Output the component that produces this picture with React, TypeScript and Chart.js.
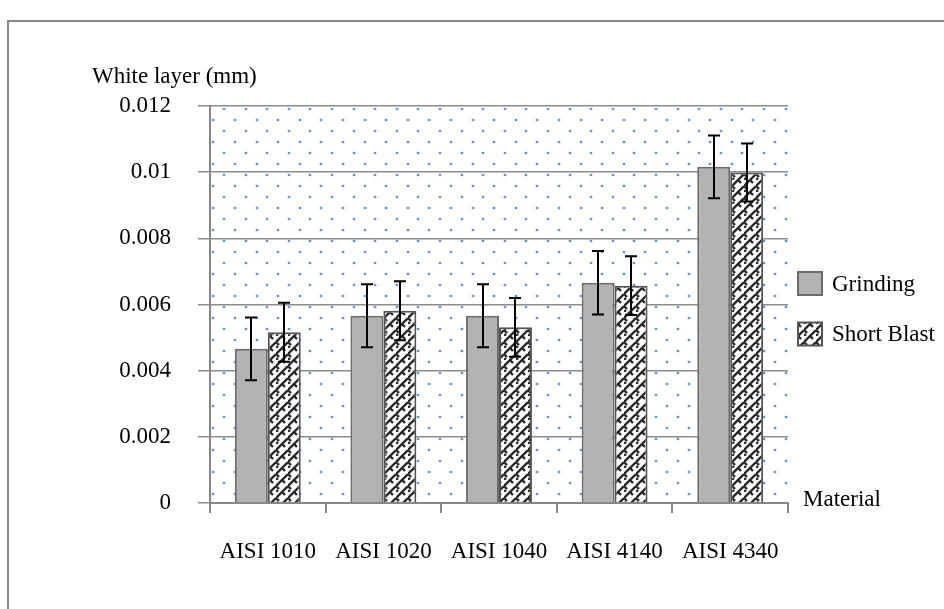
import React, { useEffect, useRef } from "react";
import { Chart, registerables } from "chart.js";

Chart.register(...registerables);

const categories = ["AISI 1010", "AISI 1020", "AISI 1040", "AISI 4140", "AISI 4340"];
const grindingValues = [0.00466, 0.00566, 0.00566, 0.00666, 0.01016];
const grindingErrors = [0.00095, 0.00095, 0.00095, 0.00096, 0.00095];
const shortBlastValues = [0.00516, 0.00581, 0.00531, 0.00657, 0.00999];
const shortBlastErrors = [0.00089, 0.00089, 0.00089, 0.00089, 0.00088];
const yTickLabels = ["0", "0.002", "0.004", "0.006", "0.008", "0.01", "0.012"];
const seriesNames = ["Grinding", "Short Blast"];
const yAxisTitle = "White layer (mm)";
const xAxisTitle = "Material";

const FONT = "'Liberation Serif', 'Times New Roman', serif";

function makeWeave(): CanvasPattern | string {
  const c = document.createElement("canvas");
  c.width = 12;
  c.height = 12;
  const g = c.getContext("2d");
  if (!g) return "#777";
  g.fillStyle = "#ffffff";
  g.fillRect(0, 0, 12, 12);
  g.strokeStyle = "#2a2a2a";
  g.lineWidth = 2.4;
  g.beginPath();
  g.moveTo(-1, 7);
  g.lineTo(6, 0);
  g.moveTo(5, 13);
  g.lineTo(12, 6);
  g.moveTo(6, 0);
  g.lineTo(9, 3);
  g.moveTo(0, 6);
  g.lineTo(3, 9);
  g.moveTo(-1, 13);
  g.lineTo(2, 10);
  g.stroke();
  const p = g.createPattern(c, "repeat");
  return p || "#777";
}

export default function App() {
  const ref = useRef<HTMLCanvasElement | null>(null);

  useEffect(() => {
    const canvas = ref.current;
    if (!canvas) return;
    const weave = makeWeave();
    const errors = [grindingErrors, shortBlastErrors];

    const decor = {
      id: "decor",
      beforeDraw(chart: any) {
        const ctx = chart.ctx;
        const a = chart.chartArea;
        ctx.save();
        ctx.fillStyle = "#ffffff";
        ctx.fillRect(0, 0, chart.width, chart.height);
        // frame
        ctx.strokeStyle = "#888888";
        ctx.lineWidth = 2;
        ctx.beginPath();
        ctx.moveTo(8, chart.height);
        ctx.lineTo(8, 21);
        ctx.lineTo(chart.width, 21);
        ctx.stroke();
        // dotted background
        let row = 0;
        for (let y = a.top + 3; y < a.bottom; y += 11, row++) {
          const start = row % 2 === 0 ? a.left + 14 : a.left + 3.3;
          for (let x = start; x < a.right; x += 21.6) {
            const px = Math.round(x);
            const py = Math.round(y);
            ctx.fillStyle = "rgba(140,175,225,0.3)";
            ctx.fillRect(px - 2, py - 1.5, 4, 3);
            ctx.fillStyle = "#6792d4";
            ctx.fillRect(px - 1, py - 1, 2, 2);
          }
        }
        ctx.restore();
      },
      afterDatasetsDraw(chart: any) {
        const ctx = chart.ctx;
        const yScale = chart.scales.y;
        ctx.save();
        ctx.strokeStyle = "#000000";
        ctx.lineWidth = 2;
        chart.data.datasets.forEach((ds: any, di: number) => {
          const meta = chart.getDatasetMeta(di);
          meta.data.forEach((bar: any, i: number) => {
            const v = ds.data[i];
            const e = errors[di][i];
            const x = Math.round(bar.x);
            const yt = yScale.getPixelForValue(v + e);
            const yb = yScale.getPixelForValue(v - e);
            ctx.beginPath();
            ctx.moveTo(x, yt);
            ctx.lineTo(x, yb);
            ctx.moveTo(x - 6, yt);
            ctx.lineTo(x + 6, yt);
            ctx.moveTo(x - 6, yb);
            ctx.lineTo(x + 6, yb);
            ctx.stroke();
          });
        });
        ctx.restore();
      },
      afterDraw(chart: any) {
        const ctx = chart.ctx;
        const a = chart.chartArea;
        ctx.save();
        ctx.font = `23px ${FONT}`;
        ctx.fillStyle = "#000000";
        ctx.textBaseline = "middle";
        ctx.textAlign = "left";
        ctx.fillText(yAxisTitle, 92, 77);
        ctx.fillText(xAxisTitle, a.right + 15, a.bottom - 3);
        // legend
        const cy = (a.top + a.bottom) / 2;
        const items = [cy - 21, cy + 29.5];
        chart.data.datasets.forEach((ds: any, di: number) => {
          const yc = items[di];
          const bx = a.right + 10;
          ctx.fillStyle = ds.backgroundColor;
          ctx.fillRect(bx, yc - 11.5, 24, 23);
          ctx.strokeStyle = ds.borderColor;
          ctx.lineWidth = 2;
          ctx.strokeRect(bx, yc - 11.5, 24, 23);
          ctx.fillStyle = "#000000";
          ctx.fillText(ds.label, bx + 34, yc + 1);
        });
        ctx.restore();
      },
    };

    const chart = new Chart(canvas, {
      type: "bar",
      data: {
        labels: categories,
        datasets: [
          {
            label: seriesNames[0],
            data: grindingValues,
            backgroundColor: "#b3b3b3",
            borderColor: "#6b6b6b",
            borderWidth: 2,
            categoryPercentage: 0.57,
            barPercentage: 1.0,
          },
          {
            label: seriesNames[1],
            data: shortBlastValues,
            backgroundColor: weave as any,
            borderColor: "#555555",
            borderWidth: 2,
            categoryPercentage: 0.57,
            barPercentage: 1.0,
          },
        ],
      },
      options: {
        responsive: false,
        animation: false,
        layout: { padding: { top: 106, right: 156, left: 0, bottom: 0 } },
        plugins: {
          legend: { display: false },
          tooltip: { enabled: false },
        },
        scales: {
          x: {
            offset: true,
            afterFit(scale: any) {
              scale.height = 106;
            },
            grid: {
              display: true,
              drawOnChartArea: false,
              drawTicks: true,
              tickLength: 10,
              offset: true,
              color: "#888888",
              lineWidth: 2,
            },
            border: { display: true, color: "#888888", width: 2 },
            ticks: {
              padding: 25,
              color: "#000000",
              font: { family: FONT, size: 23 },
              maxRotation: 0,
              autoSkip: false,
            },
          },
          y: {
            min: 0,
            max: 0.012,
            afterFit(scale: any) {
              scale.width = 210;
            },
            grid: {
              color: "#8c8c8c",
              lineWidth: 1.5,
              tickLength: 12,
              drawTicks: true,
            },
            border: { display: true, color: "#888888", width: 2 },
            ticks: {
              stepSize: 0.002,
              padding: 27,
              color: "#000000",
              font: { family: FONT, size: 23 },
              callback: (_v: any, i: number) => yTickLabels[i],
            },
          },
        },
      },
      plugins: [decor],
    });

    return () => chart.destroy();
  }, []);

  return (
    <div style={{ position: "fixed", left: 0, top: 0, width: 944, height: 609, background: "#fff" }}>
      <canvas ref={ref} width={944} height={609} style={{ width: 944, height: 609, display: "block" }} />
    </div>
  );
}
